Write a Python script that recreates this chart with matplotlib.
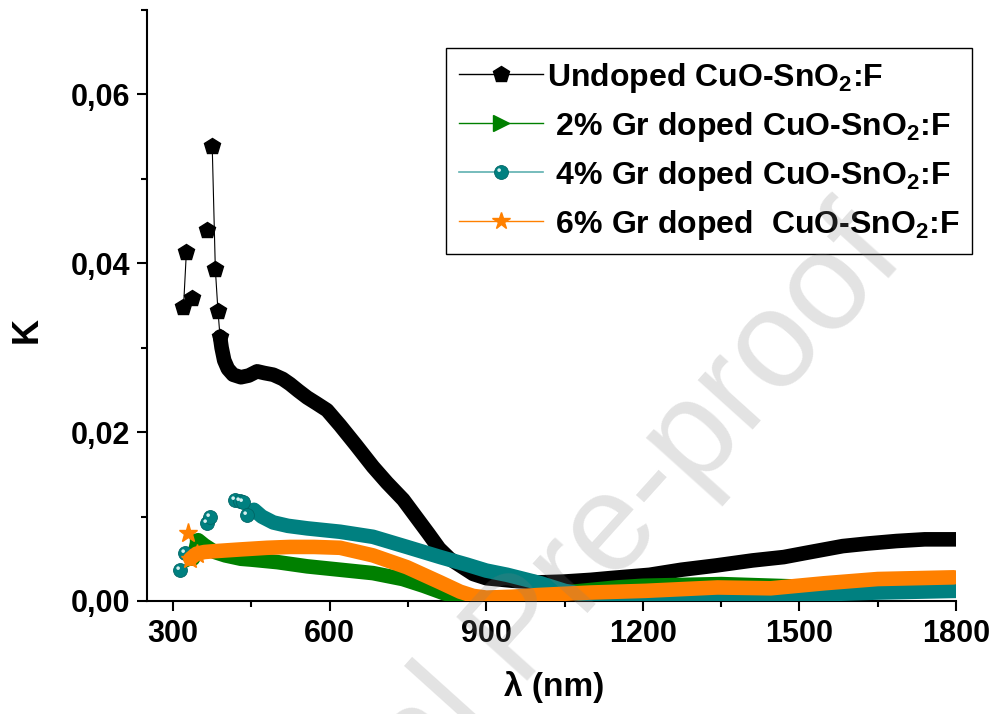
import matplotlib
matplotlib.use("Agg")
import matplotlib.pyplot as plt
import numpy as np
from matplotlib.lines import Line2D
from matplotlib.legend_handler import HandlerTuple
from matplotlib.path import Path
from matplotlib.ticker import MultipleLocator, FuncFormatter

plt.rcParams['font.family'] = ['Liberation Sans', 'DejaVu Sans']
plt.rcParams['font.weight'] = 'bold'
plt.rcParams['mathtext.fontset'] = 'custom'
plt.rcParams['mathtext.rm'] = 'Liberation Sans:bold'
plt.rcParams['mathtext.bf'] = 'Liberation Sans:bold'
plt.rcParams['mathtext.default'] = 'rm'

# --- data (lambda in nm, K) ---
# undoped: scattered first points (nan = break in the line), then the dense band
undoped_head_x = [320, 325.5, np.nan, 337, np.nan, 365, np.nan, 375, 381, 386, 390]
undoped_head_y = [0.0348, 0.0413, np.nan, 0.0359, np.nan, 0.0440, np.nan, 0.0539, 0.0393, 0.0344, 0.0313]
undoped_x = [390, 393, 398, 405, 415, 430, 445, 461, 475, 492, 510, 524, 540, 557, 575, 595,
             620, 650, 683, 710, 741, 765, 789, 810, 830, 850, 875, 900, 950, 1000, 1050,
             1100, 1136, 1213, 1274, 1340, 1410, 1470, 1513, 1583, 1630, 1686, 1740, 1800]
undoped_y = [0.0313, 0.0300, 0.0285, 0.0275, 0.0268, 0.0265, 0.0267, 0.0272, 0.0270, 0.0268,
             0.0263, 0.0257, 0.0249, 0.0241, 0.0234, 0.0226, 0.0208, 0.0185, 0.0159, 0.0140,
             0.0120, 0.0100, 0.0080, 0.0062, 0.0050, 0.0042, 0.0032, 0.0027, 0.0024, 0.0022,
             0.0023, 0.0025, 0.0027, 0.0031, 0.0037, 0.0042, 0.0048, 0.0052, 0.0057, 0.0065,
             0.0068, 0.0071, 0.0073, 0.0073]

gr2_head_x = [338, 348]
gr2_head_y = [0.0050, 0.0072]
gr2_x = [338, 348, 360, 380, 400, 430, 450, 500, 557, 620, 683, 740, 780, 820, 850, 880,
         920, 960, 1000, 1050, 1100, 1150, 1200, 1274, 1350, 1400, 1500, 1600, 1700, 1800]
gr2_y = [0.0050, 0.0072, 0.0066, 0.0058, 0.0054, 0.0050, 0.0049, 0.0046, 0.0041, 0.0037,
         0.0033, 0.0026, 0.0018, 0.0009, 0.0004, 0.0001, 0.0001, 0.0003, 0.0006, 0.0010,
         0.0013, 0.0016, 0.0018, 0.0019, 0.0020, 0.0019, 0.0017, 0.0018, 0.0019, 0.0020]

gr4_head_x = [314, 323, 365, 371, 419, 428, 434, 441]
gr4_head_y = [0.0037, 0.0057, 0.0092, 0.0100, 0.0120, 0.0119, 0.0117, 0.0102]
gr4_x = [455, 470, 492, 520, 557, 620, 683, 748, 812, 863, 900, 940, 1004, 1050, 1100,
         1150, 1200, 1300, 1400, 1479, 1550, 1650, 1800]
gr4_y = [0.0108, 0.0100, 0.0093, 0.0089, 0.0086, 0.0082, 0.0076, 0.0064, 0.0052, 0.0043,
         0.0036, 0.0031, 0.0021, 0.0012, 0.0006, 0.0003, 0.0002, 0.0003, 0.0003, 0.0006,
         0.0008, 0.0010, 0.0012]

gr6_head_x = [329, 333, 345]
gr6_head_y = [0.0080, 0.0050, 0.0056]
gr6_x = [333, 345, 360, 380, 428, 480, 524, 570, 620, 683, 748, 812, 850, 875, 900, 950,
         998, 1100, 1205, 1343, 1445, 1548, 1650, 1796]
gr6_y = [0.0050, 0.0056, 0.0058, 0.0059, 0.0061, 0.0063, 0.0064, 0.0064, 0.0063, 0.0054,
         0.0040, 0.0022, 0.0011, 0.0006, 0.0004, 0.0005, 0.0007, 0.0010, 0.0012, 0.0016,
         0.0015, 0.0021, 0.0026, 0.0028]

labels = ['Undoped CuO-SnO$_2$:F',
          ' 2% Gr doped CuO-SnO$_2$:F',
          ' 4% Gr doped CuO-SnO$_2$:F',
          ' 6% Gr doped  CuO-SnO$_2$:F']

BLACK = 'black'
GREEN = '#008000'
TEAL = '#008080'
ORANGE = '#ff8000'

# small highlight so the teal circles look like balls
shine = Path.make_compound_path(Path.circle((-0.17, 0.17), 0.13),
                                Path([[0.5, 0.5], [-0.5, -0.5]], [Path.MOVETO, Path.MOVETO]))

fig = plt.figure(figsize=(9.95, 7.14), dpi=100)
ax = fig.add_axes([0.1477, 0.1583, 0.8131, 0.8277])

band = dict(lw=10.5, solid_capstyle='round', solid_joinstyle='round')

ax.plot(undoped_x, undoped_y, color=BLACK, zorder=2, **band)
ax.plot(undoped_head_x, undoped_head_y, color=BLACK, lw=0.8, marker='p', ms=12, zorder=2)

ax.plot(gr2_x, gr2_y, color=GREEN, zorder=3, **band)
ax.plot(gr2_head_x, gr2_head_y, color=GREEN, ls='none', marker='>', ms=11, zorder=3)

ax.plot(gr4_x, gr4_y, color=TEAL, zorder=4, **band)
ax.plot(gr4_head_x, gr4_head_y, color=TEAL, ls='none', marker='o', ms=10,
        mec='#006666', mew=0.6, zorder=4)
ax.plot(gr4_head_x, gr4_head_y, color='#d8f0f0', ls='none', marker=shine, ms=10, mew=0, zorder=4)

ax.plot(gr6_x, gr6_y, color=ORANGE, zorder=5, **band)
ax.plot(gr6_head_x, gr6_head_y, color=ORANGE, ls='none', marker='*', ms=14, zorder=5)

ax.set_xlim(250, 1800)
ax.set_ylim(0, 0.07)
ax.xaxis.set_major_locator(MultipleLocator(300))
ax.xaxis.set_minor_locator(MultipleLocator(150))
ax.yaxis.set_major_locator(MultipleLocator(0.02))
ax.yaxis.set_minor_locator(MultipleLocator(0.01))
ax.yaxis.set_major_formatter(FuncFormatter(lambda v, p: f'{v:.2f}'.replace('.', ',')))

for side in ['top', 'right']:
    ax.spines[side].set_visible(False)
for side in ['left', 'bottom']:
    ax.spines[side].set_linewidth(1.5)

ax.tick_params(which='major', direction='out', length=7, width=1.5)
ax.tick_params(which='minor', direction='out', length=4, width=1.5)
ax.tick_params(axis='y', labelsize=22, pad=5)
ax.tick_params(axis='x', labelsize=22, pad=6)

ax.set_xlabel('λ (nm)', fontsize=24, fontweight='bold')
ax.xaxis.set_label_coords(0.503, -0.118)
ax.set_ylabel('K', fontsize=26, fontweight='bold', va='center')
ax.yaxis.set_label_coords(-0.148, 0.459)

# legend: thin line + marker
h_black = Line2D([], [], color=BLACK, lw=1, marker='p', ms=12)
h_green = Line2D([], [], color=GREEN, lw=1, marker='>', ms=11)
h_teal = Line2D([], [], color='#5fb0b0', lw=1.2, marker='o', ms=10, mfc=TEAL, mec='#006666', mew=0.6)
h_shine = Line2D([], [], color='#d8f0f0', ls='none', marker=shine, ms=10, mew=0)
h_orange = Line2D([], [], color=ORANGE, lw=1, marker='*', ms=13)
leg = ax.legend([h_black, h_green, (h_teal, h_shine), h_orange], labels,
                handler_map={tuple: HandlerTuple(ndivide=1, pad=0)},
                loc='upper right', bbox_to_anchor=(0.977, 0.933), bbox_transform=fig.transFigure,
                borderaxespad=0, fontsize=23, frameon=True, fancybox=False, edgecolor='black',
                framealpha=1, handlelength=2.65, handletextpad=0.1, labelspacing=0.47,
                borderpad=0.4)
leg.get_frame().set_linewidth(1.0)

# watermark of the source page
fig.text(0.912, 0.638, 'Journal Pre-proof', rotation=48, rotation_mode='anchor',
         ha='right', va='baseline', fontsize=100, fontweight='normal',
         color='gray', alpha=0.22, zorder=10)

fig.savefig('out.png', dpi=100)
